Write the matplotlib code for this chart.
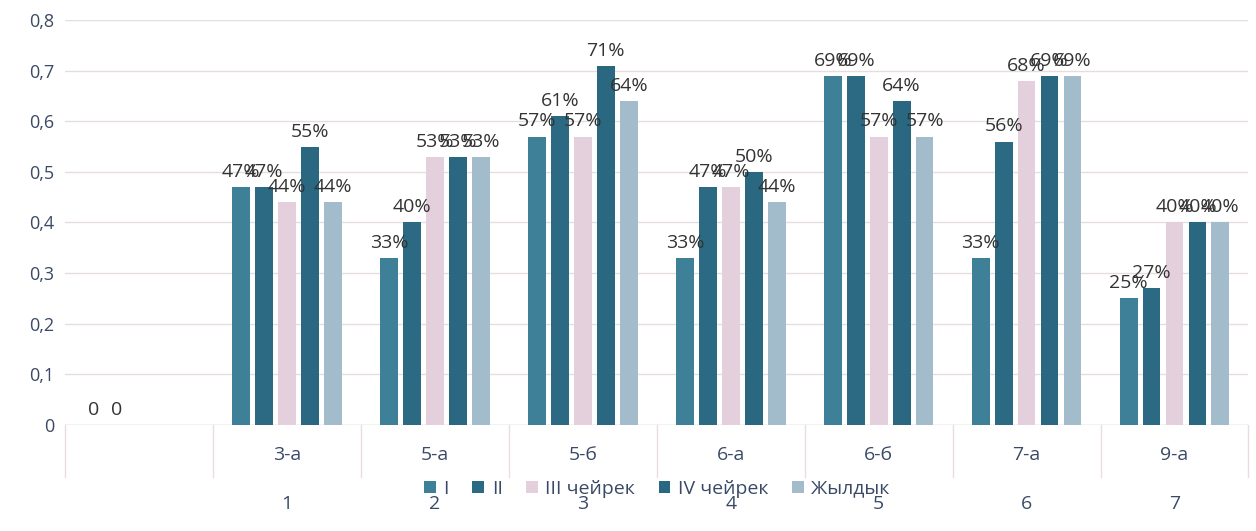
import numpy as np
import matplotlib
matplotlib.use('Agg')
import matplotlib.pyplot as plt

plt.rcParams['font.family'] = ['Open Sans', 'DejaVu Sans']

# categories (first one is an empty row in the source table)
classes = ['', '3-а', '5-а', '5-б', '6-а', '6-б', '7-а', '9-а']
numbers = ['', '1', '2', '3', '4', '5', '6', '7']

series_names = ['I', 'II', 'III чейрек', 'IV чейрек', 'Жылдык']
q1 = [0, 0.47, 0.33, 0.57, 0.33, 0.69, 0.33, 0.25]
q2 = [0, 0.47, 0.40, 0.61, 0.47, 0.69, 0.56, 0.27]
q3 = [None, 0.44, 0.53, 0.57, 0.47, 0.57, 0.68, 0.40]
q4 = [None, 0.55, 0.53, 0.71, 0.50, 0.64, 0.69, 0.40]
year = [None, 0.44, 0.53, 0.64, 0.44, 0.57, 0.69, 0.40]
colors = ['#3f8099', '#2c6a84', '#e4cfdc', '#2a6780', '#a3bccb']

fig = plt.figure(figsize=(12.56, 5.31), dpi=100)
ax = fig.add_axes([0.052, 0.2, 0.942, 0.762])

x = np.arange(len(classes))
step = 0.155
width = 0.12
for i, vals in enumerate([q1, q2, q3, q4, year]):
    xs = x + (i - 2) * step
    h = [v if v is not None else 0 for v in vals]
    ax.bar(xs, h, width, color=colors[i], label=series_names[i], zorder=2)
    for xi, v in zip(xs, vals):
        if v is None:
            continue
        txt = '0' if v == 0 else '{:.0f}%'.format(v * 100)
        ax.text(xi, v + 0.012, txt, ha='center', va='bottom', fontsize=14, color='#333333')

ax.set_xlim(-0.5, len(classes) - 0.5)
ax.set_ylim(0, 0.8)
ax.set_yticks(np.arange(0, 0.81, 0.1))
ax.set_yticklabels(['0'] + ['{:.1f}'.format(t).replace('.', ',') for t in np.arange(0.1, 0.81, 0.1)])
ax.tick_params(axis='y', length=0, labelsize=13, colors='#3a4a66', pad=8)
ax.tick_params(axis='x', length=0, labelbottom=False)
ax.grid(axis='y', color='#e6dede', linewidth=1, zorder=0)
for s in ax.spines.values():
    s.set_visible(False)
ax.axhline(0, color='#e0d6d6', linewidth=1, zorder=1)

# two-level category labels
for xi, c, n in zip(x, classes, numbers):
    ax.annotate(c, (xi, 0), xytext=(0, -22), textcoords='offset points',
                ha='center', va='center', fontsize=14, color='#3a4a66', annotation_clip=False)
    ax.annotate(n, (xi, 0), xytext=(0, -57), textcoords='offset points',
                ha='center', va='center', fontsize=14, color='#3a4a66', annotation_clip=False)
trans = ax.get_xaxis_transform()
for b in np.arange(-0.5, len(classes), 1.0):
    ax.plot([b, b], [0, -0.13], transform=trans, color='#eadcdc', linewidth=1, clip_on=False)

ax.legend(loc='center', bbox_to_anchor=(0.5, -0.158), ncol=5, frameon=False,
          fontsize=14, handlelength=0.6, handleheight=0.6, handletextpad=0.4,
          columnspacing=1.2, labelcolor='#3a4a66')

fig.savefig('out.png', dpi=100)
